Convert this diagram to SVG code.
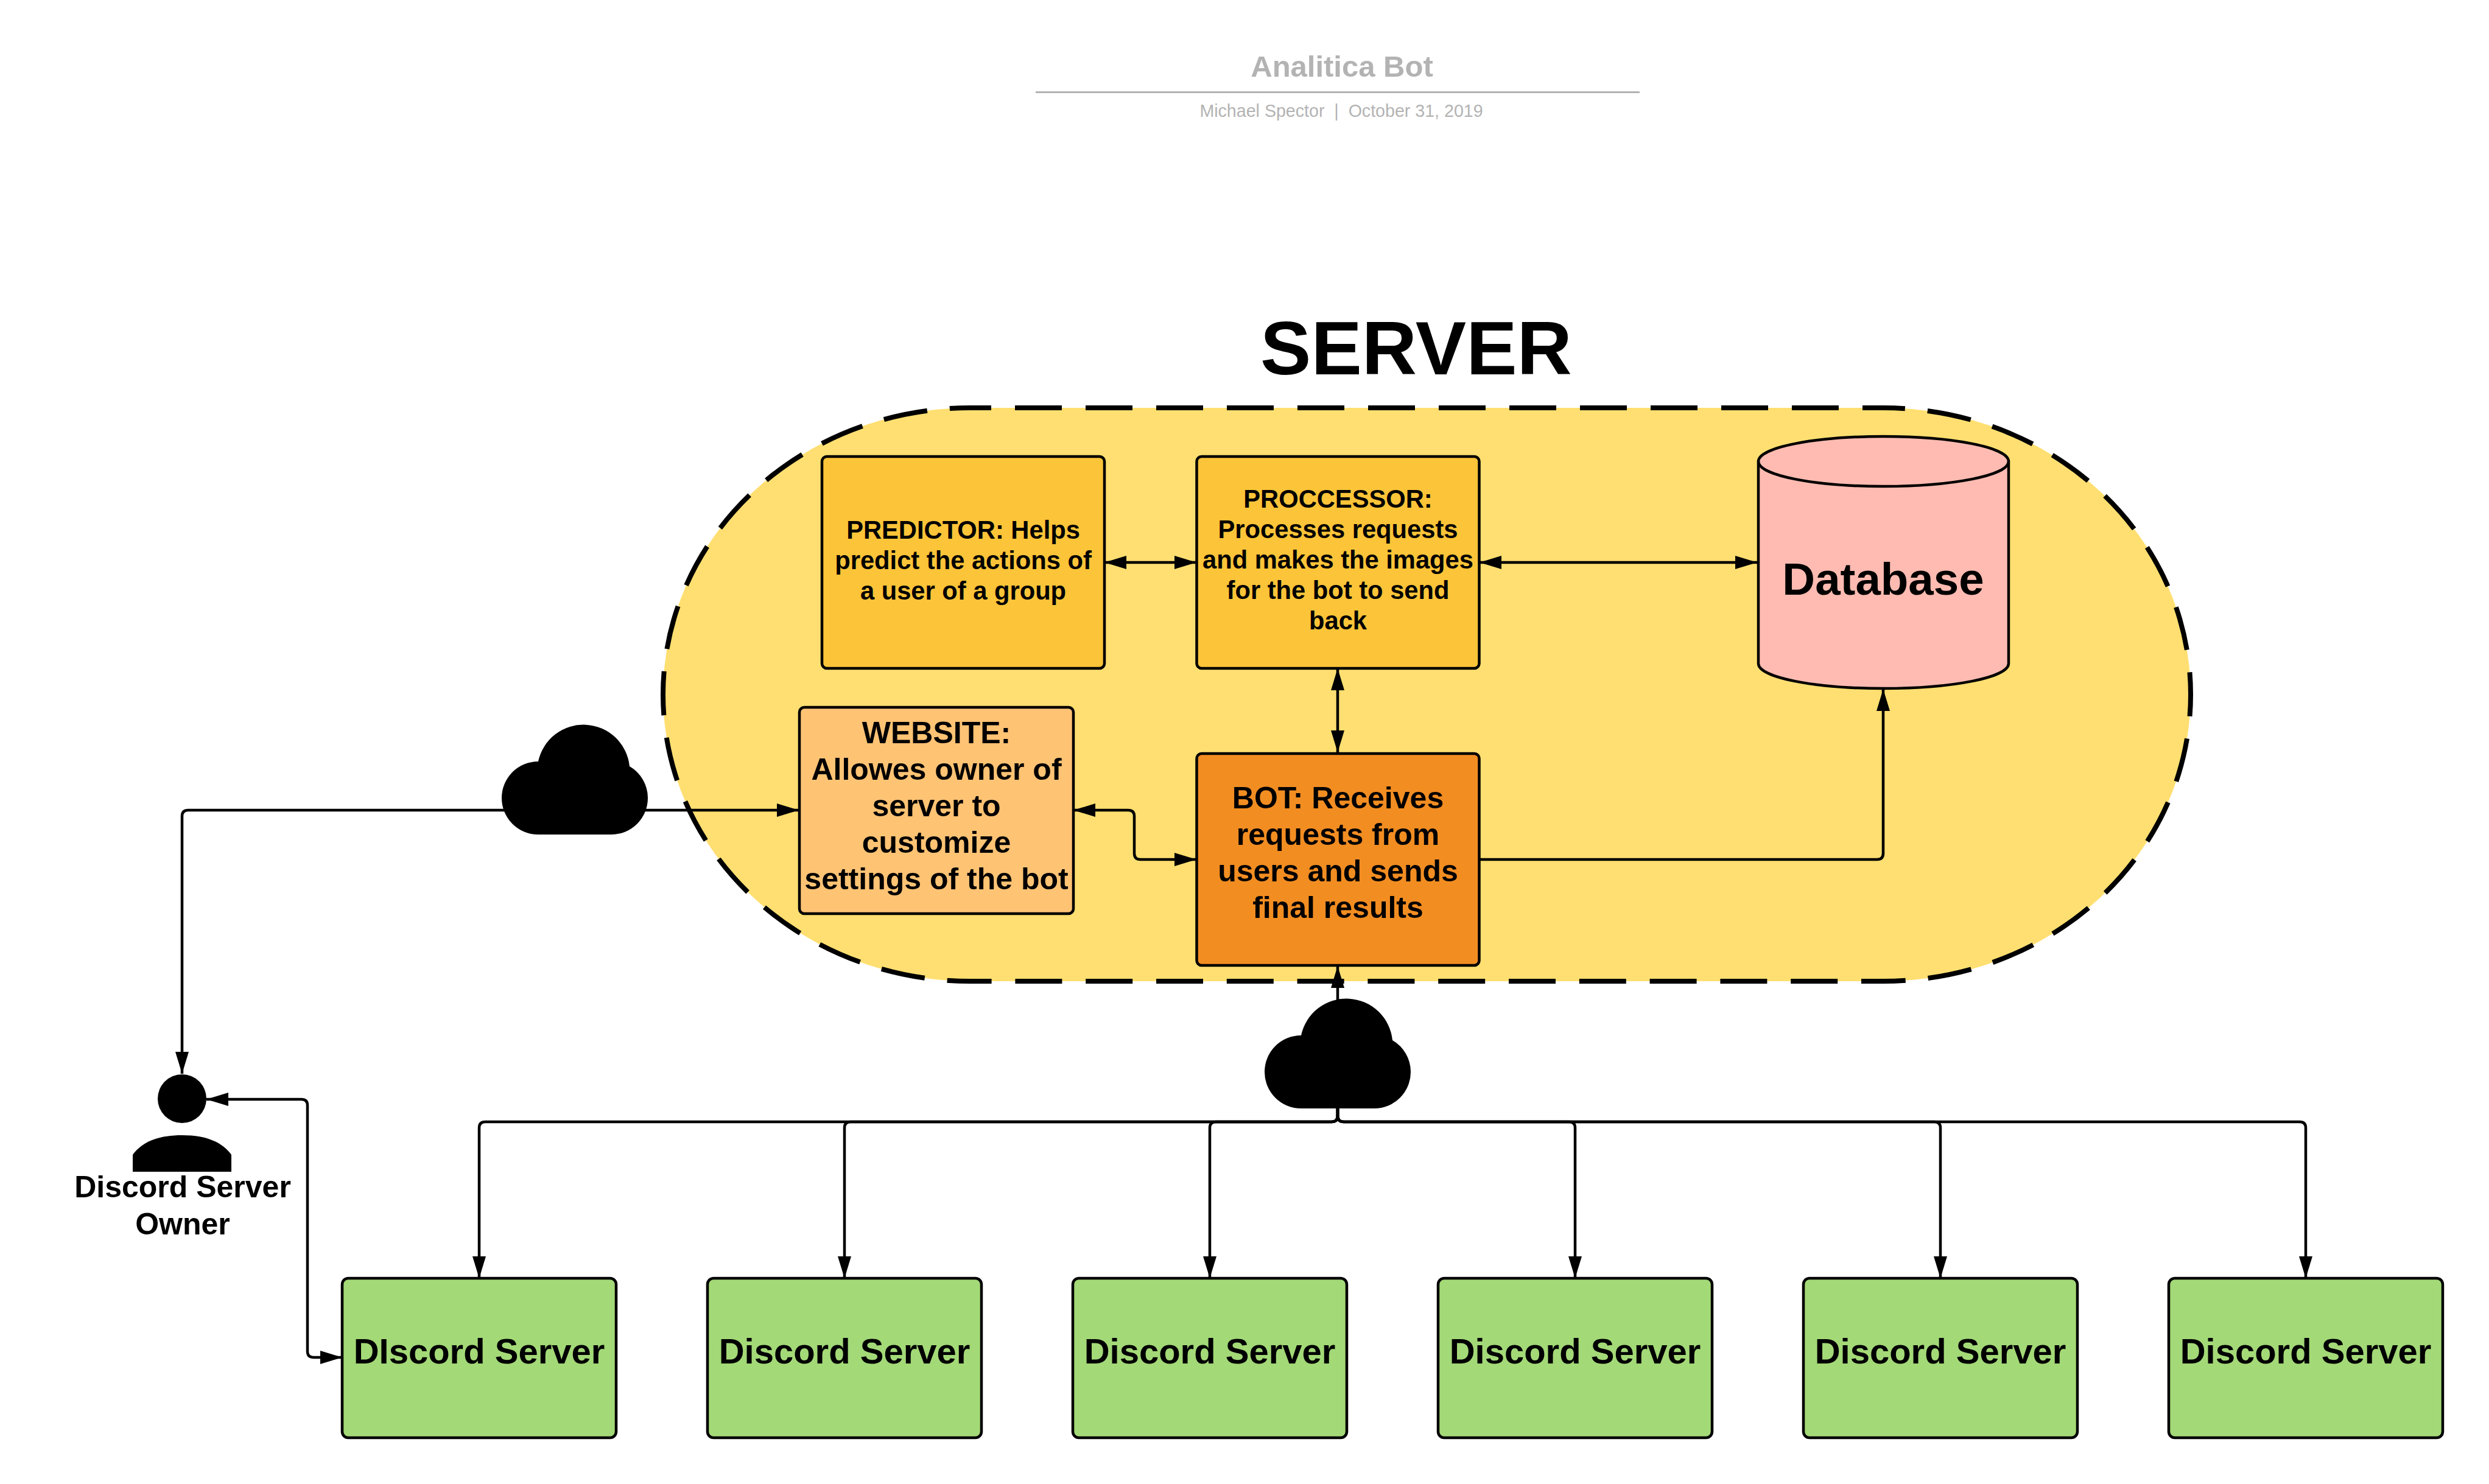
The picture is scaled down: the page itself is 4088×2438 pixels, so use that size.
<svg xmlns="http://www.w3.org/2000/svg" width="4088" height="2438" viewBox="0 0 4088 2438">
<style>
text{font-family:"Liberation Sans",Arial,sans-serif;font-weight:700;text-anchor:middle;fill:#000}
.b{stroke:#000;stroke-width:4.5}
.c{fill:none;stroke:#000;stroke-width:4.5}
.d{fill:none;stroke:#000;stroke-width:8}
.g{fill:#a3d977}
.t42{font-size:41.7px}.t50{font-size:50px}.t58{font-size:58px}
</style>
<defs>
<marker id="e" markerUnits="userSpaceOnUse" markerWidth="38" markerHeight="26" refX="36" refY="13" orient="auto"><path d="M0 2L36 13L0 24Z"/></marker>
<marker id="s" markerUnits="userSpaceOnUse" markerWidth="38" markerHeight="26" refX="2" refY="13" orient="auto"><path d="M38 2L2 13L38 24Z"/></marker>
<path id="cloud" d="M60 180A60 60 0 0 1 60 60A76 76 0 0 1 210 68A60 60 0 0 1 240 120A60 60 0 0 1 180 180Z"/>
</defs>
<rect width="4088" height="2438" fill="#fff"/>
<g id="title">
<text x="2204" y="126" font-size="49" style="fill:#b3b3b3">Analitica Bot</text>
<rect x="1701" y="150" width="992" height="3" fill="#b3b3b3"/>
<text x="2203" y="192" font-size="28.6" style="fill:#b3b3b3;font-weight:400">Michael Spector &#160;|&#160; October 31, 2019</text>
</g>
<g id="server">
<rect x="1089" y="670" width="2509" height="942" rx="505" ry="471" fill="#ffdf71"/>
<path class="d" d="M1594 670H3093" stroke-dasharray="77 39" stroke-dashoffset="43"/>
<path class="d" d="M3093 670A505 471 0 0 1 3093 1612" stroke-dasharray="72.5 37" stroke-dashoffset="36.5"/>
<path class="d" d="M3093 1612H1594" stroke-dasharray="77 38.8" stroke-dashoffset="41"/>
<path class="d" d="M1594 1612A505 471 0 0 1 1594 670" stroke-dasharray="72.5 37" stroke-dashoffset="34"/>
<text x="2326" y="615" font-size="125">SERVER</text>
</g>
<g id="connectors">
<path class="c" marker-start="url(#s)" marker-end="url(#e)" d="M1814 924H1965"/>
<path class="c" marker-start="url(#s)" marker-end="url(#e)" d="M2430 924H2886"/>
<path class="c" marker-start="url(#s)" marker-end="url(#e)" d="M2197 1098V1236"/>
<path class="c" marker-start="url(#s)" marker-end="url(#e)" d="M1763 1331H1853Q1863 1331 1863 1341V1402Q1863 1412 1873 1412H1965"/>
<path class="c" marker-end="url(#e)" d="M2430 1412H3083Q3093 1412 3093 1402V1132"/>
<path class="c" marker-start="url(#s)" marker-end="url(#e)" d="M299 1764V1341Q299 1331 309 1331H1312"/>
<path class="c" marker-start="url(#s)" marker-end="url(#e)" d="M339 1806H495Q505 1806 505 1816V2220Q505 2230 515 2230H562"/>
<path class="c" marker-end="url(#e)" d="M2197 1800V1587"/>
<path class="c" marker-end="url(#e)" d="M2197 1821V1833Q2197 1843 2187 1843H797Q787 1843 787 1853V2100"/>
<path class="c" marker-end="url(#e)" d="M2197 1821V1833Q2197 1843 2187 1843H1397Q1387 1843 1387 1853V2100"/>
<path class="c" marker-end="url(#e)" d="M2197 1821V1833Q2197 1843 2187 1843H1997Q1987 1843 1987 1853V2100"/>
<path class="c" marker-end="url(#e)" d="M2197 1821V1833Q2197 1843 2207 1843H2577Q2587 1843 2587 1853V2100"/>
<path class="c" marker-end="url(#e)" d="M2197 1821V1833Q2197 1843 2207 1843H3177Q3187 1843 3187 1853V2100"/>
<path class="c" marker-end="url(#e)" d="M2197 1821V1833Q2197 1843 2207 1843H3777Q3787 1843 3787 1853V2100"/>
</g>
<g id="predictor"><rect class="b" x="1350" y="750" width="464" height="348" rx="8" fill="#fcc438"/>
<text class="t42" x="1582" y="885">PREDICTOR: Helps</text><text class="t42" x="1582" y="935">predict the actions of</text><text class="t42" x="1582" y="985">a user of a group</text></g>
<g id="processor"><rect class="b" x="1965.5" y="750" width="464" height="348" rx="8" fill="#fcc438"/>
<text class="t42" x="2197.5" y="834">PROCCESSOR:</text><text class="t42" x="2197.5" y="884">Processes requests</text><text class="t42" x="2197.5" y="934">and makes the images</text><text class="t42" x="2197.5" y="984">for the bot to send</text><text class="t42" x="2197.5" y="1034">back</text></g>
<g id="database">
<path d="M2888 758V1090C2888 1113 2980 1131 3093.5 1131S3299 1113 3299 1090V758C3299 735 3207 717 3093.5 717S2888 735 2888 758Z" fill="#ffbbb1" stroke="#000" stroke-width="4.5"/>
<path d="M2888 758C2888 781 2980 799 3093.5 799S3299 781 3299 758" fill="none" stroke="#000" stroke-width="4.5"/>
<text x="3093" y="977" font-size="74.5">Database</text></g>
<g id="website"><rect class="b" x="1313" y="1162" width="450" height="339" rx="8" fill="#ffc374"/>
<text class="t50" x="1538" y="1221">WEBSITE:</text><text class="t50" x="1538" y="1281">Allowes owner of</text><text class="t50" x="1538" y="1341">server to</text><text class="t50" x="1538" y="1401">customize</text><text class="t50" x="1538" y="1461">settings of the bot</text></g>
<g id="bot"><rect class="b" x="1965.5" y="1238" width="464" height="348" rx="8" fill="#f28d22"/>
<text class="t50" x="2197.5" y="1328">BOT: Receives</text><text class="t50" x="2197.5" y="1388">requests from</text><text class="t50" x="2197.5" y="1448">users and sends</text><text class="t50" x="2197.5" y="1508">final results</text></g>
<g id="cloud-website"><use href="#cloud" x="824" y="1191"/></g>
<g id="cloud-bot"><use href="#cloud" x="2077" y="1641"/></g>
<g id="owner">
<ellipse cx="299" cy="1805" rx="40" ry="40"/>
<path d="M218 1925V1897C232 1878 256 1865 299 1865C342 1865 366 1878 380 1897V1925Z"/>
<text x="300" y="1967" font-size="50">Discord Server</text><text x="300" y="2028" font-size="50">Owner</text></g>
<g id="discord-1"><rect class="b g" x="562" y="2100" width="450" height="262" rx="10"/><text class="t58" x="787" y="2240">DIscord Server</text></g>
<g id="discord-2"><rect class="b g" x="1162" y="2100" width="450" height="262" rx="10"/><text class="t58" x="1387" y="2240">Discord Server</text></g>
<g id="discord-3"><rect class="b g" x="1762" y="2100" width="450" height="262" rx="10"/><text class="t58" x="1987" y="2240">Discord Server</text></g>
<g id="discord-4"><rect class="b g" x="2362" y="2100" width="450" height="262" rx="10"/><text class="t58" x="2587" y="2240">Discord Server</text></g>
<g id="discord-5"><rect class="b g" x="2962" y="2100" width="450" height="262" rx="10"/><text class="t58" x="3187" y="2240">Discord Server</text></g>
<g id="discord-6"><rect class="b g" x="3562" y="2100" width="450" height="262" rx="10"/><text class="t58" x="3787" y="2240">Discord Server</text></g>
</svg>
